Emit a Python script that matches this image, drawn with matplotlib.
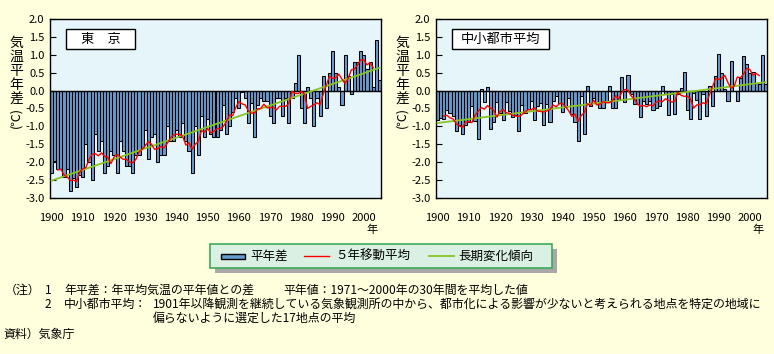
import numpy as np
import pandas as pd
import matplotlib
matplotlib.use("Agg")
import matplotlib.pyplot as plt
from matplotlib.patches import Rectangle
from matplotlib.lines import Line2D

plt.rcParams["font.family"] = ["Noto Sans CJK JP", "DejaVu Sans"]
plt.rcParams["axes.unicode_minus"] = False

W, H = 774, 354

# --- données ---
years = np.arange(1900, 2006)

tokyo = [
    -2.30, -1.98, -2.20, -2.20, -2.40, -2.20, -2.80, -2.45, -2.70, -2.35,
    -2.40, -1.50, -2.00, -2.50, -1.20, -1.70, -1.40, -2.30, -2.10, -1.70,
    -1.80, -2.30, -1.40, -1.70, -2.10, -2.10, -2.30, -1.80, -1.80, -1.60,
    -1.10, -1.90, -1.30, -1.20, -2.00, -1.80, -1.80, -1.00, -1.40, -1.40,
    -1.10, -1.30, -0.90, -1.40, -1.70, -2.30, -1.00, -1.80, -0.70, -1.30,
    -0.80, -1.20, -1.30, -1.30, -1.10, -0.40, -1.20, -1.00, -0.60, -0.20,
    -0.50, -0.05, -0.20, -0.90, -0.35, -1.30, -0.40, -0.20, -0.30, -0.30,
    -0.70, -0.90, -0.20, -0.20, -0.70, -0.20, -0.90, -0.20, 0.20, 1.00,
    -0.50, -0.90, 0.10, -0.20, -1.00, -0.20, -0.70, 0.40, -0.50, 0.50,
    1.10, 0.50, 0.10, -0.40, 1.00, 0.40, -0.10, 0.80, 0.80, 1.10,
    1.00, 0.60, 0.80, 0.10, 1.40, 0.30,
]

small_cities = [
    -0.82, -0.76, -0.80, -0.55, -0.63, -0.70, -1.13, -0.95, -1.21, -0.95,
    -0.88, -0.42, -0.85, -1.36, 0.05, -0.31, 0.10, -1.07, -0.87, -0.31,
    -0.62, -0.83, -0.31, -0.58, -0.75, -0.69, -1.13, -0.40, -0.63, -0.52,
    -0.30, -0.81, -0.42, -0.35, -0.96, -0.38, -0.87, -0.28, -0.15, -0.34,
    -0.61, -0.47, -0.20, -0.66, -0.87, -1.41, -0.15, -1.20, 0.14, -0.44,
    -0.20, -0.36, -0.50, -0.50, -0.33, 0.14, -0.50, -0.50, -0.25, 0.38,
    -0.31, 0.44, -0.10, -0.38, -0.38, -0.75, -0.28, -0.38, -0.30, -0.54,
    -0.50, -0.42, 0.14, -0.10, -0.67, -0.10, -0.64, -0.10, 0.08, 0.53,
    -0.53, -0.78, -0.08, -0.27, -0.78, -0.10, -0.70, 0.14, -0.42, 0.42,
    1.02, 0.50, 0.05, -0.28, 0.84, 0.00, -0.28, 0.36, 0.97, 0.75,
    0.50, 0.53, 0.20, 0.18, 1.00, 0.19,
]

panel_titles = ["東　京", "中小都市平均"]
y_ticks = np.arange(-3.0, 2.01, 0.5)
x_ticks = np.arange(1900, 2001, 10)
legend_labels = ["平年差", "５年移動平均", "長期変化傾向"]

BG = "#FFFFDD"
PLOT_BG = "#E6F5FA"
BAR = "#6699CC"
RED = "#FF0000"
GREEN = "#88C425"


def fx(px):
    return px / W


def fy(py):
    return 1 - py / H


fig = plt.figure(figsize=(W / 100, H / 100), dpi=100, facecolor=BG)


def draw_panel(left_px, values, title, box_w):
    """Un panneau : barres + moyenne mobile 5 ans + tendance linéaire"""
    ax = fig.add_axes([fx(left_px), fy(198), 331 / W, (198 - 19) / H])
    ax.set_facecolor(PLOT_BG)

    s = pd.Series(values, index=years)
    ax.bar(years, s.values, width=1.0, color=BAR, edgecolor="black",
           linewidth=0.75, zorder=2)
    ax.axhline(0, color="black", lw=1.0, zorder=2.5)

    # tendance linéaire (moindres carrés)
    coef = np.polyfit(years, s.values, 1)
    ax.plot(years, np.polyval(coef, years), color=GREEN, lw=1.3, zorder=3)

    # moyenne mobile centrée sur 5 ans
    ma = s.rolling(5, center=True).mean()
    ax.plot(years, ma.values, color=RED, lw=1.0, zorder=4)

    ax.set_xlim(1899.5, 2005.5)
    ax.set_ylim(-3.0, 2.0)
    ax.set_yticks(y_ticks)
    ax.set_yticklabels([f"{v:.1f}" for v in y_ticks])
    ax.set_xticks(x_ticks)
    ax.set_xticklabels([str(v) for v in x_ticks])
    ax.tick_params(axis="y", direction="in", length=4, width=0.8,
                   labelsize=8, pad=4)
    ax.tick_params(axis="x", length=0, labelsize=8, pad=11)
    for sp in ax.spines.values():
        sp.set_linewidth(1.0)

    # encadré du titre
    off = left_px - 50
    fig.patches.append(Rectangle((fx(66 + off), fy(49)), box_w / W, 20 / H,
                                 transform=fig.transFigure,
                                 facecolor="white", edgecolor="black", lw=1.0,
                                 zorder=5))
    fig.text(fx(66 + off + box_w / 2), fy(39), title, ha="center",
             va="center", fontsize=9.5, zorder=6)

    # libellé de l'axe y (vertical)
    fig.text(fx(16 + off), fy(71), "気\n温\n平\n年\n差", ha="center",
             va="center", fontsize=10, linespacing=1.02)
    fig.text(fx(16 + off), fy(117), "(℃)", ha="center", va="center",
             fontsize=9, rotation=90)
    fig.text(fx(372 + off), fy(230), "年", ha="center", va="center",
             fontsize=8)
    return ax


draw_panel(50, tokyo, panel_titles[0], 69)
draw_panel(436, small_cities, panel_titles[1], 97)

# --- légende dessinée à la main ---
fig.patches.append(Rectangle((fx(215), fy(273)), 342 / W, 24 / H,
                             transform=fig.transFigure, facecolor="#A8A8A8",
                             edgecolor="none"))
fig.patches.append(Rectangle((fx(210), fy(268)), 342 / W, 24 / H,
                             transform=fig.transFigure, facecolor="#DAF0E2",
                             edgecolor="#3CAA5A", lw=1.2))
fig.patches.append(Rectangle((fx(221), fy(259)), 24 / W, 5 / H,
                             transform=fig.transFigure, facecolor=BAR,
                             edgecolor="black", lw=1.0))
fig.lines.append(Line2D([fx(304), fx(329)], [fy(256), fy(256)],
                        transform=fig.transFigure, color=RED, lw=1.0))
fig.lines.append(Line2D([fx(429), fx(454)], [fy(256), fy(256)],
                        transform=fig.transFigure, color=GREEN, lw=1.3))
for x_px, lab in zip([250, 335, 458], legend_labels):
    fig.text(fx(x_px), fy(256), lab, ha="left", va="center", fontsize=9)

# --- notes ---
fs = 8.6
fig.text(fx(5), fy(290), "（注）", ha="left", va="center", fontsize=fs)
fig.text(fx(45), fy(290), "1", ha="left", va="center", fontsize=fs)
fig.text(fx(64), fy(290), "年平差：年平均気温の平年値との差",
         ha="left", va="center", fontsize=fs)
fig.text(fx(283), fy(290), "平年値：1971～2000年の30年間を平均した値",
         ha="left", va="center", fontsize=fs)
fig.text(fx(45), fy(304), "2", ha="left", va="center", fontsize=fs)
fig.text(fx(64), fy(304), "中小都市平均：", ha="left", va="center", fontsize=fs)
fig.text(fx(153), fy(304),
         "1901年以降観測を継続している気象観測所の中から、都市化による影響が"
         "少ないと考えられる地点を特定の地域に",
         ha="left", va="center", fontsize=fs)
fig.text(fx(153), fy(318), "偏らないように選定した17地点の平均",
         ha="left", va="center", fontsize=fs)
fig.text(fx(3), fy(334), "資料）気象庁", ha="left", va="center", fontsize=fs)

fig.savefig("out.png", dpi=100, facecolor=BG)
